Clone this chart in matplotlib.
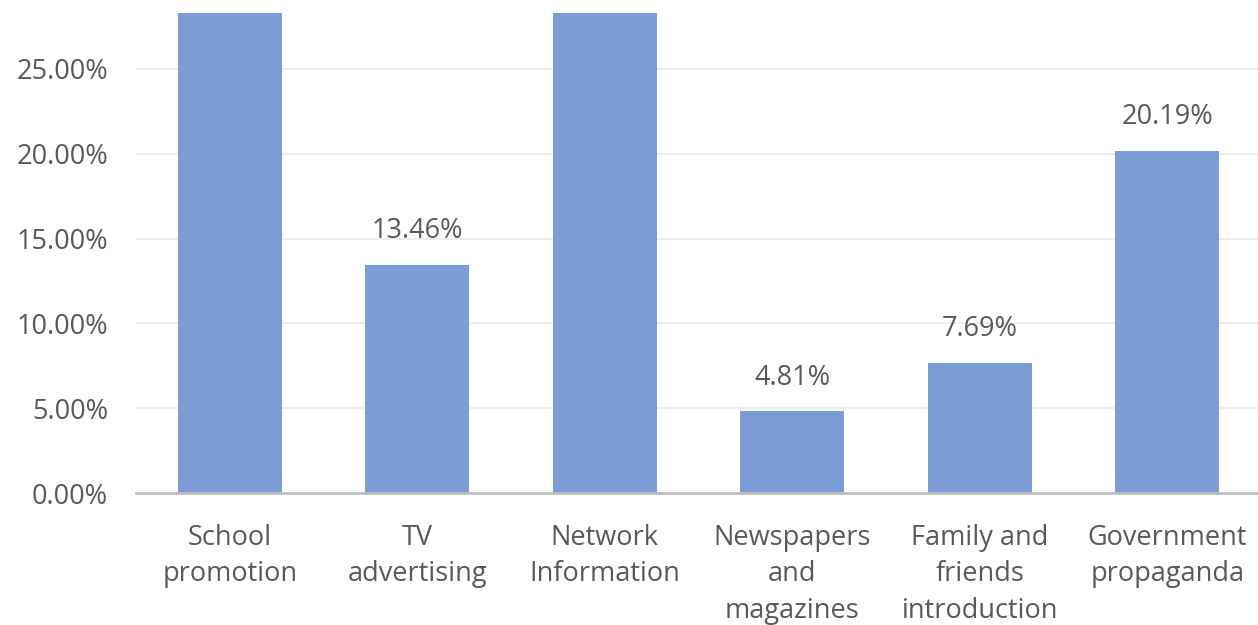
import numpy as np
import matplotlib
matplotlib.use("Agg")
import matplotlib.pyplot as plt
from matplotlib.ticker import FuncFormatter

categories = ["School\npromotion", "TV\nadvertising", "Network\nInformation",
              "Newspapers\nand\nmagazines", "Family and\nfriends\nintroduction",
              "Government\npropaganda"]
# share of respondents (%) per information channel
values = [33.65, 13.46, 37.50, 4.81, 7.69, 20.19]
y_ticks = [0, 5, 10, 15, 20, 25]

plt.rcParams['font.family'] = ['Open Sans', 'DejaVu Sans']
text_col = '#595959'
bar_col = '#7B9CD4'
fs = 19.5

fig = plt.figure(figsize=(12.58, 6.25), dpi=100)
ax = fig.add_axes([136 / 1258, 132 / 625, 1125 / 1258, 480 / 625])

x = np.arange(len(categories))
ax.bar(x, values, width=0.555, color=bar_col, zorder=2)

ymax = 28.3
ax.set_ylim(0, ymax)
ax.set_xlim(-0.5, len(categories) - 0.5)
ax.set_yticks(y_ticks)
ax.yaxis.set_major_formatter(FuncFormatter(lambda v, p: '%.2f%%' % v))
ax.grid(axis='y', color='#ebebeb', linewidth=1.2, zorder=0)
ax.set_xticks(x)
ax.set_xticklabels(categories, linespacing=1.42)

ax.tick_params(axis='both', length=0, labelsize=fs, labelcolor=text_col)
ax.tick_params(axis='x', pad=22)
ax.tick_params(axis='y', pad=20)
for s in ['top', 'right', 'left']:
    ax.spines[s].set_visible(False)
ax.spines['bottom'].set_color('#bfbfbf')
ax.spines['bottom'].set_linewidth(2)
ax.spines['bottom'].set_zorder(3)

for xi, v in zip(x, values):
    if v < ymax:
        ax.annotate('%.2f%%' % v, (xi, v), xytext=(0, 14), textcoords='offset points',
                    ha='center', va='bottom', fontsize=fs, color=text_col)

fig.savefig('out.png', dpi=100)
